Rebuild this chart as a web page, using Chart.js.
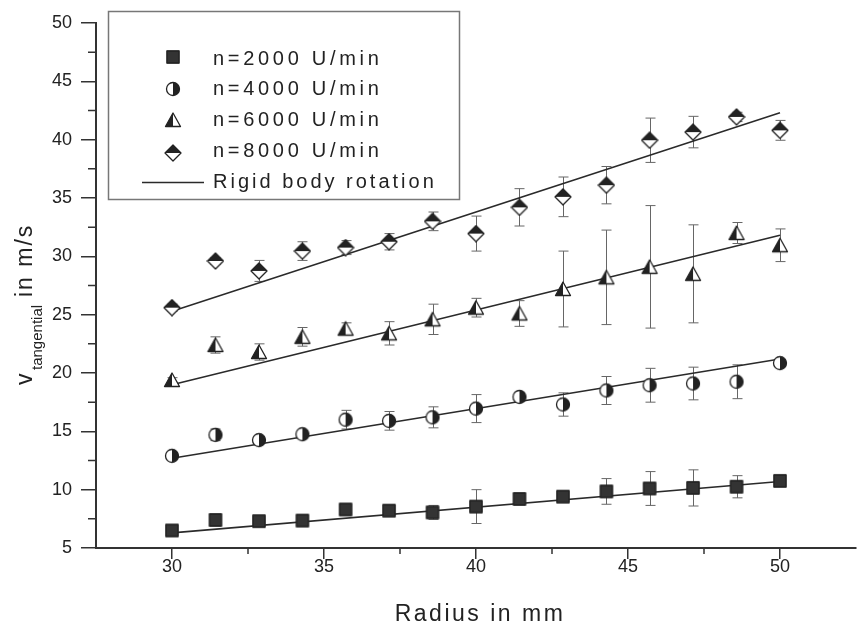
<!DOCTYPE html>
<html>
<head>
<meta charset="utf-8">
<script src="https://cdn.jsdelivr.net/npm/chart.js@4/dist/chart.umd.min.js"></script>
<style>
  html, body { margin: 0; padding: 0; background: #fff; }
  #wrap { width: 865px; height: 627px; }
</style>
</head>
<body>
<div id="wrap"><canvas id="vel"></canvas></div>
<script>
// radius positions (mm) of the measured points
const radius = [30, 31.43, 32.86, 34.29, 35.71, 37.14, 38.57, 40, 41.43, 42.86, 44.29, 45.71, 47.14, 48.57, 50];

// tangential velocity (m/s) and error half-widths per speed
const v2000 = [6.5, 7.4, 7.3, 7.35, 8.3, 8.2, 8.05, 8.55, 9.2, 9.4, 9.85, 10.1, 10.15, 10.25, 10.75];
const e2000 = [0.2, 0.2, 0.2, 0.2, 0.3, 0.3, 0.6, 1.45, 0.4, 0.2, 1.1, 1.45, 1.55, 0.95, 0.2];
const v4000 = [12.9, 14.7, 14.25, 14.75, 16.0, 15.9, 16.2, 16.95, 17.95, 17.3, 18.5, 18.95, 19.1, 19.25, 20.85];
const e4000 = [0.2, 0.5, 0.3, 0.3, 0.8, 0.8, 0.9, 1.2, 0.4, 1.0, 1.2, 1.45, 1.4, 1.45, 0.3];
const v6000 = [19.4, 22.4, 21.8, 23.1, 23.8, 23.4, 24.6, 25.6, 25.1, 27.2, 28.2, 29.1, 28.5, 32.0, 30.95];
const e6000 = [0.2, 0.7, 0.7, 0.8, 0.5, 1.0, 1.3, 0.8, 1.1, 3.25, 4.05, 5.25, 4.2, 0.9, 1.4];
const v8000 = [25.6, 29.6, 28.75, 30.45, 30.75, 31.25, 33.0, 31.95, 34.2, 35.1, 36.1, 39.95, 40.65, 41.95, 40.8];
const e8000 = [0.3, 0.3, 0.9, 0.8, 0.6, 0.7, 0.8, 1.5, 1.6, 1.7, 1.6, 1.9, 1.35, 0.4, 0.85];

// rigid body rotation lines (end points)
const fitR = [30, 50];
const fit2000 = [6.3, 10.7];
const fit4000 = [12.7, 21.2];
const fit6000 = [19.0, 31.8];
const fit8000 = [25.3, 42.3];

const labels = ['n=2000 U/min', 'n=4000 U/min', 'n=6000 U/min', 'n=8000 U/min'];
const fitLabel = 'Rigid body rotation';

// axis ticks
const xTicks = [30, 35, 40, 45, 50];
const xMinor = [32.5, 37.5, 42.5, 47.5];
const yTicks = [5, 10, 15, 20, 25, 30, 35, 40, 45, 50];
const yMinor = [7.5, 12.5, 17.5, 22.5, 27.5, 32.5, 37.5, 42.5, 47.5];

const FONT = "'Liberation Sans', Arial, sans-serif";
const INK = '#222';

// half filled marker symbols
function makeMarker(kind) {
  const c = document.createElement('canvas');
  c.width = 18; c.height = 18;
  const g = c.getContext('2d');
  g.lineWidth = 1.3;
  g.strokeStyle = INK;
  g.lineJoin = 'round';
  if (kind === 'square') {
    g.fillStyle = '#333';
    g.fillRect(2.5, 2.5, 13, 13);
    g.strokeRect(3, 3, 12, 12);
  } else if (kind === 'circle') {
    g.beginPath(); g.arc(9, 9, 6.5, 0, Math.PI * 2);
    g.fillStyle = '#fff'; g.fill();
    g.beginPath(); g.arc(9, 9, 6.5, -Math.PI / 2, Math.PI / 2); g.closePath();
    g.fillStyle = INK; g.fill();
    g.beginPath(); g.arc(9, 9, 6.5, 0, Math.PI * 2); g.stroke();
  } else if (kind === 'triangle') {
    g.beginPath(); g.moveTo(9, 2); g.lineTo(1.5, 15.5); g.lineTo(16.5, 15.5); g.closePath();
    g.fillStyle = '#fff'; g.fill();
    g.beginPath(); g.moveTo(9, 2); g.lineTo(1.5, 15.5); g.lineTo(9, 15.5); g.closePath();
    g.fillStyle = INK; g.fill();
    g.beginPath(); g.moveTo(9, 2); g.lineTo(1.5, 15.5); g.lineTo(16.5, 15.5); g.closePath();
    g.stroke();
  } else {
    g.beginPath(); g.moveTo(9, 1); g.lineTo(1, 9); g.lineTo(9, 17); g.lineTo(17, 9); g.closePath();
    g.fillStyle = '#fff'; g.fill();
    g.beginPath(); g.moveTo(1, 9); g.lineTo(9, 1); g.lineTo(17, 9); g.closePath();
    g.fillStyle = INK; g.fill();
    g.beginPath(); g.moveTo(9, 1); g.lineTo(1, 9); g.lineTo(9, 17); g.lineTo(17, 9); g.closePath();
    g.stroke();
  }
  return c;
}

const markers = [makeMarker('square'), makeMarker('circle'), makeMarker('triangle'), makeMarker('diamond')];
const series = [v2000, v4000, v6000, v8000];
const errors = [e2000, e4000, e6000, e8000];
const fits = [fit2000, fit4000, fit6000, fit8000];

const pts = vals => radius.map((r, i) => ({x: r, y: vals[i]}));

const datasets = [];
series.forEach((vals, k) => {
  datasets.push({
    label: labels[k], data: pts(vals), showLine: false,
    pointStyle: markers[k], pointRadius: 8, pointHoverRadius: 8,
    errBars: errors[k]
  });
});
fits.forEach(f => {
  datasets.push({
    label: fitLabel, data: fitR.map((r, i) => ({x: r, y: f[i]})), showLine: true,
    borderColor: '#2a2a2a', borderWidth: 1.6, pointRadius: 0, fill: false
  });
});

// error bars, drawn under the markers
const errorBars = {
  id: 'errorBars',
  beforeDatasetsDraw(chart) {
    const {ctx, scales: {x, y}} = chart;
    ctx.save();
    ctx.strokeStyle = '#666';
    ctx.lineWidth = 1;
    chart.data.datasets.forEach(ds => {
      if (!ds.errBars) return;
      ds.data.forEach((p, i) => {
        const e = ds.errBars[i];
        const px = Math.round(x.getPixelForValue(p.x)) + 0.5;
        const yt = y.getPixelForValue(p.y + e), yb = y.getPixelForValue(p.y - e);
        ctx.beginPath();
        ctx.moveTo(px, yt); ctx.lineTo(px, yb);
        ctx.moveTo(px - 5, yt); ctx.lineTo(px + 5, yt);
        ctx.moveTo(px - 5, yb); ctx.lineTo(px + 5, yb);
        ctx.stroke();
      });
    });
    ctx.restore();
  }
};

// minor ticks, axis titles and the boxed legend
const decorations = {
  id: 'decorations',
  afterDraw(chart) {
    const {ctx, chartArea: area, scales: {x, y}} = chart;
    ctx.save();
    ctx.strokeStyle = '#333';
    ctx.lineWidth = 1.5;
    ctx.beginPath();
    xMinor.forEach(v => { const px = x.getPixelForValue(v); ctx.moveTo(px, area.bottom); ctx.lineTo(px, area.bottom + 6); });
    yMinor.forEach(v => { const py = y.getPixelForValue(v); ctx.moveTo(area.left, py); ctx.lineTo(area.left - 8, py); });
    ctx.stroke();

    ctx.fillStyle = INK;
    // x title
    ctx.font = '23px ' + FONT;
    ctx.letterSpacing = '2.5px';
    ctx.textAlign = 'center';
    ctx.textBaseline = 'alphabetic';
    ctx.fillText('Radius in mm', 480, 621);

    // y title with subscript
    ctx.save();
    ctx.translate(32, 385);
    ctx.rotate(-Math.PI / 2);
    ctx.textAlign = 'left';
    ctx.letterSpacing = '2px';
    ctx.font = '23px ' + FONT;
    ctx.fillText('v', 0, 0);
    ctx.letterSpacing = '0px';
    ctx.font = '15px ' + FONT;
    ctx.fillText('tangential', 15, 10);
    ctx.letterSpacing = '2px';
    ctx.font = '23px ' + FONT;
    ctx.fillText('in m/s', 88, 0);
    ctx.restore();

    // legend box
    ctx.strokeStyle = '#777';
    ctx.lineWidth = 1.5;
    ctx.strokeRect(108.5, 11.5, 351, 188);
    ctx.font = '20px ' + FONT;
    ctx.letterSpacing = '3.7px';
    ctx.textAlign = 'left';
    const rowsMark = [57, 89, 120, 153];
    const rowsText = [65, 95, 126, 157];
    labels.forEach((lab, k) => {
      const m = markers[k];
      ctx.drawImage(m, 173 - m.width / 2, rowsMark[k] - m.height / 2);
      ctx.fillText(lab, 213, rowsText[k]);
    });
    ctx.strokeStyle = '#2a2a2a';
    ctx.lineWidth = 1.6;
    ctx.beginPath(); ctx.moveTo(142, 182.5); ctx.lineTo(204, 182.5); ctx.stroke();
    ctx.letterSpacing = '3px';
    ctx.fillText(fitLabel, 213, 188);
    ctx.restore();
  }
};

new Chart(document.getElementById('vel'), {
  type: 'scatter',
  data: {datasets},
  options: {
    responsive: true,
    maintainAspectRatio: false,
    animation: false,
    layout: {padding: {top: 23, left: 0, right: 0, bottom: 0}},
    plugins: {legend: {display: false}, tooltip: {enabled: false}},
    scales: {
      x: {
        type: 'linear', min: 27.5, max: 52.5,
        afterBuildTicks: s => { s.ticks = xTicks.map(v => ({value: v})); },
        afterFit: s => { s.height = 79; },
        border: {display: true, color: '#333', width: 2},
        grid: {drawOnChartArea: false, drawTicks: true, tickLength: 11, color: '#333', lineWidth: 1.5},
        ticks: {color: INK, font: {family: FONT, size: 18}, padding: -3, maxRotation: 0}
      },
      y: {
        type: 'linear', min: 5, max: 50,
        afterBuildTicks: s => { s.ticks = yTicks.map(v => ({value: v})); },
        afterFit: s => { s.width = 96; },
        border: {display: true, color: '#333', width: 2},
        grid: {drawOnChartArea: false, drawTicks: true, tickLength: 15, color: '#333', lineWidth: 1.5},
        ticks: {color: INK, font: {family: FONT, size: 18}, padding: 9}
      }
    }
  },
  plugins: [errorBars, decorations]
});
</script>
</body>
</html>
